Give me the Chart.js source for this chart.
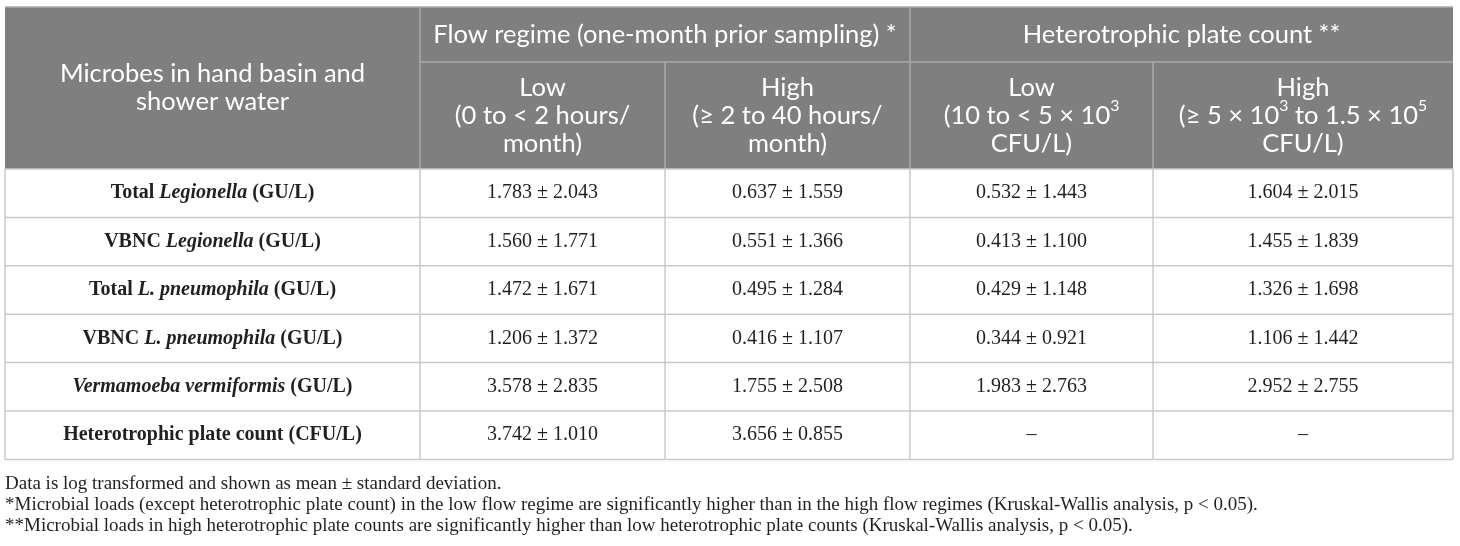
<!DOCTYPE html>
<html><head><meta charset="utf-8">
<script src="https://cdn.jsdelivr.net/npm/chart.js@4.4.1/dist/chart.umd.min.js"></script>
<style>html,body{margin:0;padding:0;background:#fff;overflow:hidden}</style>
</head><body>
<canvas id="c" width="1460" height="546" style="display:block;width:1460px;height:546px"></canvas>
<script>
// ---------- DATA ----------
const firstHeader = ["Microbes in hand basin and", "shower water"];
const groupHeaders = ["Flow regime (one-month prior sampling) *", "Heterotrophic plate count **"];
const subHeaders = [
  ["Low", "(0 to < 2 hours/", "month)"],
  ["High", "(\u2265 2 to 40 hours/", "month)"],
  ["Low", "(10 to < 5 \u00d7 10^3", "CFU/L)"],
  ["High", "(\u2265 5 \u00d7 10^3 to 1.5 \u00d7 10^5", "CFU/L)"]
];
const rowLabels = [
  "Total <i>Legionella</i> (GU/L)",
  "VBNC <i>Legionella</i> (GU/L)",
  "Total <i>L. pneumophila</i> (GU/L)",
  "VBNC <i>L. pneumophila</i> (GU/L)",
  "<i>Vermamoeba vermiformis</i> (GU/L)",
  "Heterotrophic plate count (CFU/L)"
];
const lowFlowMean  = [1.783, 1.560, 1.472, 1.206, 3.578, 3.742];
const lowFlowSD    = [2.043, 1.771, 1.671, 1.372, 2.835, 1.010];
const highFlowMean = [0.637, 0.551, 0.495, 0.416, 1.755, 3.656];
const highFlowSD   = [1.559, 1.366, 1.284, 1.107, 2.508, 0.855];
const lowHpcMean   = [0.532, 0.413, 0.429, 0.344, 1.983, null];
const lowHpcSD     = [1.443, 1.100, 1.148, 0.921, 2.763, null];
const highHpcMean  = [1.604, 1.455, 1.326, 1.106, 2.952, null];
const highHpcSD    = [2.015, 1.839, 1.698, 1.442, 2.755, null];
const footnotes = [
  "Data is log transformed and shown as mean \u00b1 standard deviation.",
  "*Microbial loads (except heterotrophic plate count) in the low flow regime are significantly higher than in the high flow regimes (Kruskal-Wallis analysis, p < 0.05).",
  "**Microbial loads in high heterotrophic plate counts are significantly higher than low heterotrophic plate counts (Kruskal-Wallis analysis, p < 0.05)."
];

// ---------- LAYOUT / STYLE ----------
const LAYOUT = {
  colEdges: [5, 420, 665, 910, 1153, 1453],
  top: 7, groupBottom: 62, headBottom: 169, rowH: 48.4,
  footX: 5, footY: [484, 505, 526]
};
const STYLE = {
  headBg: '#7f7f7f', headLine: '#a9a9a9', headText: '#ffffff',
  bodyLine: '#cacaca', bodyText: '#231f20',
  headFont: 'Lato', headSize: 25.5,
  bodyFont: '"Liberation Serif"', bodySize: 20,
  footSize: 19
};

const columns = [[lowFlowMean, lowFlowSD], [highFlowMean, highFlowSD], [lowHpcMean, lowHpcSD], [highHpcMean, highHpcSD]];
const colCenter = j => (LAYOUT.colEdges[j] + LAYOUT.colEdges[j + 1]) / 2;
const rowCenter = i => LAYOUT.headBottom + LAYOUT.rowH * (i + 0.5);
const fmt = (m, s) => (m === null ? '\u2013' : m.toFixed(3) + ' \u00b1 ' + s.toFixed(3));

function parseMarkup(str) {
  const segs = [];
  let italic = false, buf = '';
  const push = (sup) => { if (buf) { segs.push({t: buf, italic, sup: !!sup}); buf = ''; } };
  for (let k = 0; k < str.length; k++) {
    if (str.startsWith('<i>', k)) { push(); italic = true; k += 2; continue; }
    if (str.startsWith('</i>', k)) { push(); italic = false; k += 3; continue; }
    if (str[k] === '^') { push(); buf = str[k + 1]; push(true); k += 1; continue; }
    buf += str[k];
  }
  push();
  return segs;
}
function drawRich(ctx, str, x, y, size, family, weight, color, align) {
  const segs = parseMarkup(str);
  const fontOf = s => (s.italic ? 'italic ' : '') + weight + ' ' + (s.sup ? size * 0.62 : size) + 'px ' + family;
  let total = 0;
  segs.forEach(s => { ctx.font = fontOf(s); s.w = ctx.measureText(s.t).width; total += s.w; });
  let cx = align === 'left' ? x : x - total / 2;
  ctx.fillStyle = color; ctx.textBaseline = 'middle'; ctx.textAlign = 'left';
  segs.forEach(s => { ctx.font = fontOf(s); ctx.fillText(s.t, cx, s.sup ? y - size * 0.36 : y); cx += s.w; });
}

const tablePlugin = {
  id: 'tablePlugin',
  afterDatasetsDraw(chart) {
    const ctx = chart.ctx, X = v => chart.scales.x.getPixelForValue(v), Y = v => chart.scales.y.getPixelForValue(v);
    const E = LAYOUT.colEdges, L0 = E[0], R = E[E.length - 1];
    const bottom = LAYOUT.headBottom + LAYOUT.rowH * rowLabels.length;
    ctx.save();
    ctx.fillStyle = STYLE.headBg;
    ctx.fillRect(X(L0), Y(LAYOUT.top), X(R) - X(L0), Y(LAYOUT.headBottom) - Y(LAYOUT.top));
    const line = (x1, y1, x2, y2, c, w) => { ctx.strokeStyle = c; ctx.lineWidth = w; ctx.beginPath(); ctx.moveTo(X(x1), Y(y1)); ctx.lineTo(X(x2), Y(y2)); ctx.stroke(); };
    line(L0, LAYOUT.top, R, LAYOUT.top, STYLE.headLine, 1.5);
    line(E[1], LAYOUT.groupBottom, R, LAYOUT.groupBottom, STYLE.headLine, 1.5);
    line(E[1], LAYOUT.top, E[1], LAYOUT.headBottom, STYLE.headLine, 1.5);
    line(E[3], LAYOUT.top, E[3], LAYOUT.headBottom, STYLE.headLine, 1.5);
    line(E[2], LAYOUT.groupBottom, E[2], LAYOUT.headBottom, STYLE.headLine, 1.5);
    line(E[4], LAYOUT.groupBottom, E[4], LAYOUT.headBottom, STYLE.headLine, 1.5);
    for (let i = 0; i <= rowLabels.length; i++) {
      const yy = LAYOUT.headBottom + LAYOUT.rowH * i;
      line(L0, yy, R, yy, STYLE.bodyLine, 1.5);
    }
    E.forEach(xx => line(xx, LAYOUT.headBottom, xx, bottom, STYLE.bodyLine, 1.5));
    const hs = STYLE.headSize, lh = 28;
    const fc = (LAYOUT.top + LAYOUT.headBottom) / 2;
    firstHeader.forEach((t, k) => drawRich(ctx, t, X(colCenter(0)), Y(fc + (k - (firstHeader.length - 1) / 2) * lh), hs, STYLE.headFont, 'normal', STYLE.headText));
    const gc = (LAYOUT.top + LAYOUT.groupBottom) / 2;
    groupHeaders.forEach((t, g) => drawRich(ctx, t, X((E[1 + 2 * g] + E[3 + 2 * g]) / 2), Y(gc), hs, STYLE.headFont, 'normal', STYLE.headText));
    const sc = (LAYOUT.groupBottom + LAYOUT.headBottom) / 2;
    subHeaders.forEach((lines, j) => lines.forEach((t, k) =>
      drawRich(ctx, t, X(colCenter(j + 1)), Y(sc + (k - (lines.length - 1) / 2) * lh), hs, STYLE.headFont, 'normal', STYLE.headText)));
    rowLabels.forEach((t, i) => drawRich(ctx, t, X(colCenter(0)), Y(rowCenter(i)), STYLE.bodySize, STYLE.bodyFont, 'bold', STYLE.bodyText));
    chart.data.datasets.forEach((ds, j) => {
      const meta = chart.getDatasetMeta(j);
      meta.data.forEach((pt, i) => drawRich(ctx, fmt(columns[j][0][i], columns[j][1][i]), pt.x, pt.y, STYLE.bodySize, STYLE.bodyFont, 'normal', STYLE.bodyText));
    });
    footnotes.forEach((t, k) => drawRich(ctx, t, X(LAYOUT.footX), Y(LAYOUT.footY[k]), STYLE.footSize, STYLE.bodyFont, 'normal', STYLE.bodyText, 'left'));
    ctx.restore();
  }
};

new Chart(document.getElementById('c'), {
  type: 'scatter',
  data: {
    datasets: columns.map((c, j) => ({
      label: 'col' + j,
      data: rowLabels.map((r, i) => ({x: colCenter(j + 1), y: rowCenter(i)})),
      pointRadius: 0, pointHoverRadius: 0, showLine: false
    }))
  },
  options: {
    responsive: false, animation: false, events: [],
    layout: {padding: 0},
    plugins: {legend: {display: false}, tooltip: {enabled: false}, title: {display: false}},
    scales: {
      x: {type: 'linear', min: 0, max: 1460, display: false},
      y: {type: 'linear', min: 0, max: 546, reverse: true, display: false}
    }
  },
  plugins: [tablePlugin]
});
</script>
</body></html>
